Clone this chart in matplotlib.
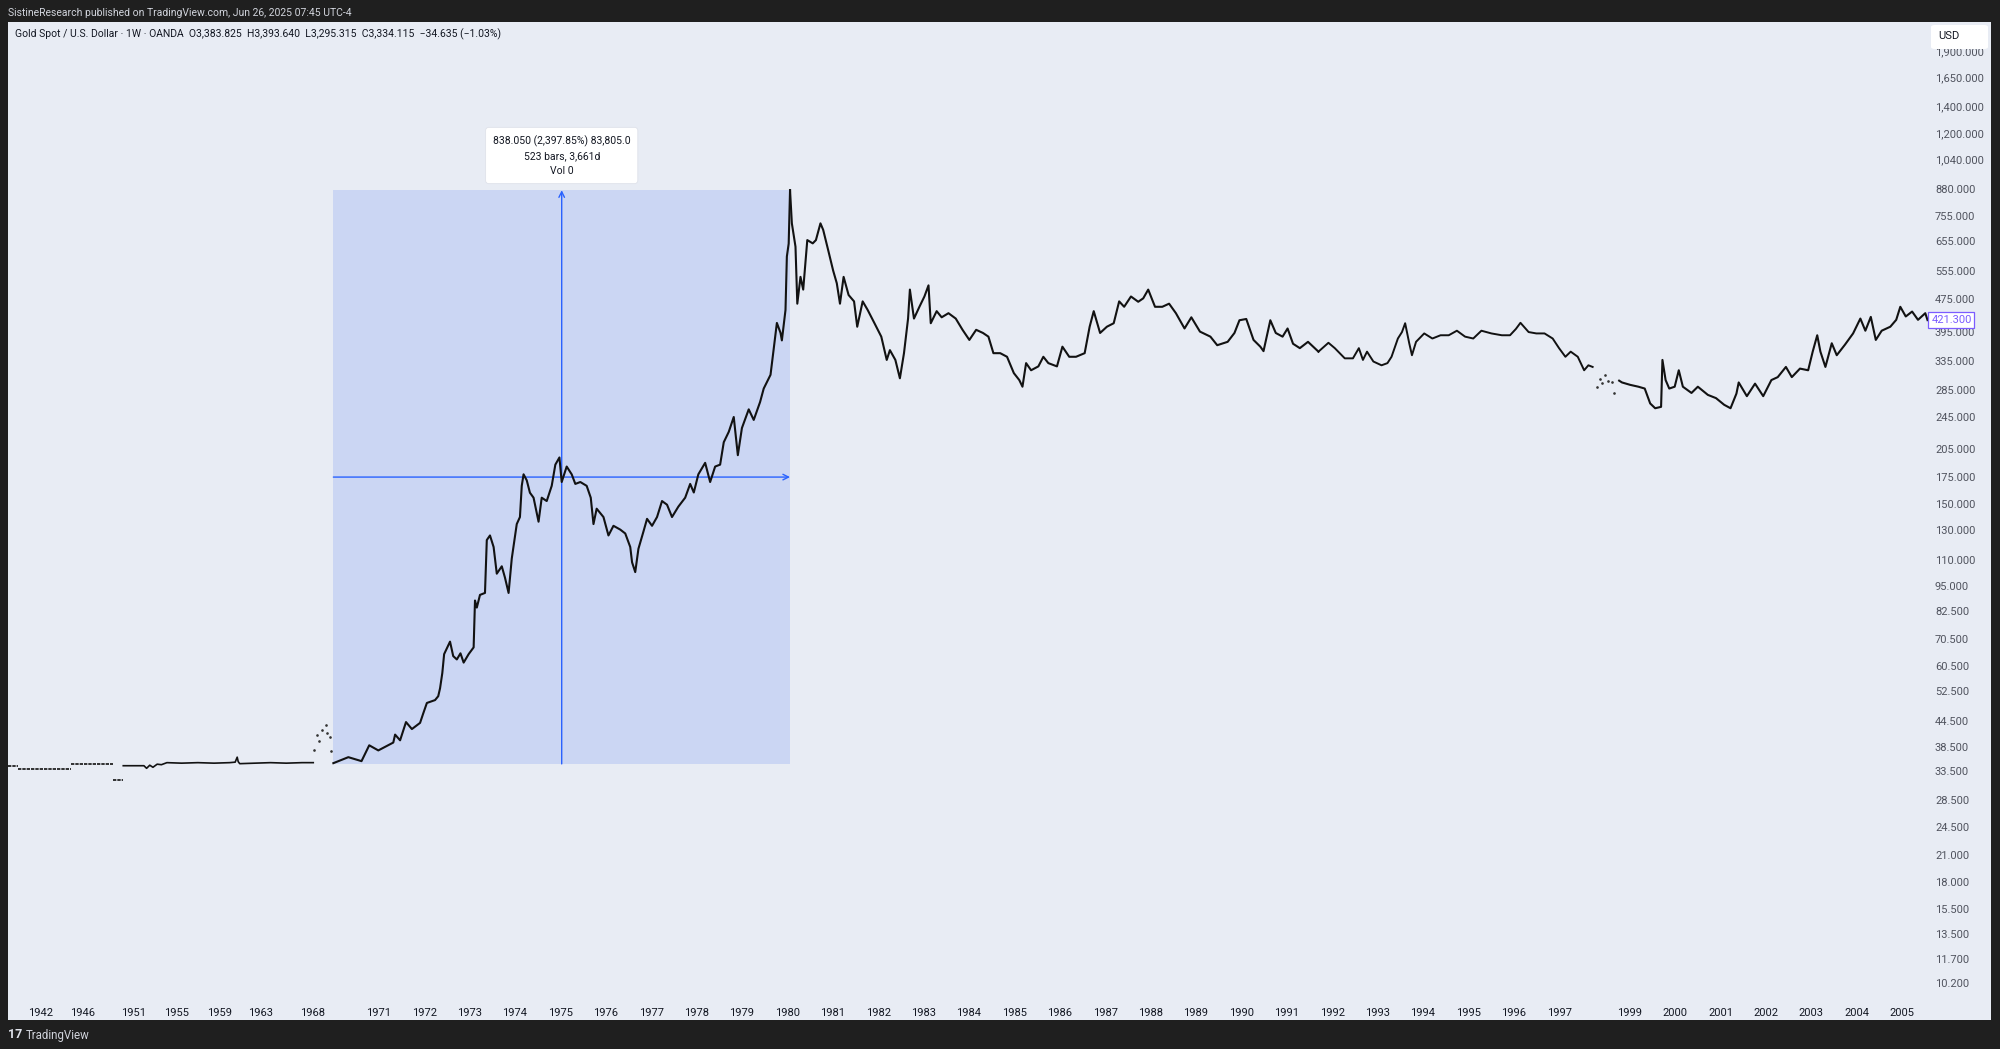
import numpy as np
import matplotlib
matplotlib.use("Agg")
import matplotlib.pyplot as plt
from matplotlib.patches import Rectangle, FancyBboxPatch
from matplotlib.ticker import FixedLocator, NullLocator
import matplotlib.transforms as mtransforms

plt.rcParams['font.family'] = ['Roboto', 'DejaVu Sans']

# --- data (decimal year, USD/oz) ---
# flat pieces before 1950 (weekly bars drawn as dashes)
flat_start = [1938.9, 1939.86, 1944.87, 1948.92]
flat_end = [1939.86, 1944.87, 1948.92, 1949.96]
flat_price = [34.6, 33.9, 35.0, 32.0]

fifties_years = [1949.96, 1951.0, 1951.95, 1952.2, 1952.5, 1952.8, 1953.2, 1953.6, 1954.12,
                 1955.5, 1957.0, 1958.5, 1960.0, 1960.55, 1960.75, 1960.85, 1961.0,
                 1962.5, 1964.0, 1965.5, 1967.0, 1968.08]
fifties_prices = [34.6, 34.6, 34.6, 34.1, 34.7, 34.3, 34.9, 34.8, 35.2,
                  35.1, 35.2, 35.1, 35.2, 35.3, 36.3, 35.4, 35.0,
                  35.1, 35.2, 35.1, 35.2, 35.2]

dots68_years = [1968.17, 1968.41, 1968.66, 1968.89, 1969.25, 1969.44, 1969.71, 1969.80]
dots68_prices = [37.8, 41.1, 39.8, 42.3, 43.6, 41.6, 40.6, 37.6]

rise_years = [1970.00, 1970.33, 1970.62, 1970.79, 1970.99, 1971.32, 1971.36, 1971.47, 1971.60,
              1971.73, 1971.91, 1971.98, 1972.06, 1972.24, 1972.31, 1972.35, 1972.40, 1972.44,
              1972.57, 1972.64, 1972.72, 1972.80, 1972.87, 1972.98, 1973.09, 1973.12, 1973.16,
              1973.23, 1973.34, 1973.38, 1973.45, 1973.53, 1973.60, 1973.71, 1973.78, 1973.86,
              1973.93, 1974.04, 1974.11, 1974.15, 1974.19, 1974.26, 1974.33, 1974.41, 1974.52,
              1974.59, 1974.70, 1974.81, 1974.89, 1974.98, 1975.03, 1975.14, 1975.25, 1975.33,
              1975.44, 1975.58, 1975.67, 1975.73, 1975.80, 1975.95, 1976.06, 1976.17, 1976.32,
              1976.43, 1976.54, 1976.58, 1976.65, 1976.72, 1976.83, 1976.91, 1977.02, 1977.13,
              1977.24, 1977.35, 1977.46, 1977.60, 1977.75, 1977.86, 1977.94, 1978.04, 1978.19,
              1978.30, 1978.41, 1978.52, 1978.60, 1978.71, 1978.82, 1978.91, 1979.00, 1979.15,
              1979.26, 1979.40, 1979.48, 1979.63, 1979.70, 1979.77, 1979.85, 1979.88, 1979.96,
              1979.99, 1980.03, 1980.06]
rise_prices = [35.1, 36.3, 35.5, 38.8, 37.7, 39.4, 41.2, 39.9, 44.2,
               42.5, 44.0, 46.4, 49.2, 50.0, 51.1, 53.4, 58.2, 64.7,
               69.4, 64.0, 62.8, 65.0, 61.7, 64.7, 67.2, 87.4, 84.0,
               90.2, 91.2, 122.7, 125.9, 118.0, 101.6, 105.9, 99.4, 91.2,
               110.6, 134.2, 139.6, 166.3, 177.4, 171.5, 160.0, 155.6, 136.0,
               155.6, 152.7, 166.3, 187.3, 195.0, 169.9, 185.3, 177.4, 168.1,
               169.9, 166.3, 155.6, 134.2, 146.3, 139.6, 125.9, 132.9, 130.1,
               127.3, 118.0, 108.3, 102.5, 116.8, 128.6, 138.2, 132.9, 139.6,
               152.7, 149.6, 139.6, 148.0, 155.6, 168.1, 160.2, 177.4, 189.2,
               169.9, 185.3, 187.3, 212.4, 225.1, 244.7, 197.5, 230.0, 255.4,
               240.7, 266.1, 287.0, 310.0, 358.4, 414.7, 392.3, 376.0, 446.0,
               602.0, 647.0, 873.0]

mid_years = [1980.06, 1980.10, 1980.18, 1980.22, 1980.29, 1980.35, 1980.44, 1980.56, 1980.63,
             1980.73, 1980.79, 1980.90, 1981.01, 1981.09, 1981.16, 1981.24, 1981.35, 1981.47,
             1981.54, 1981.66, 1981.77, 1981.92, 1982.07, 1982.19, 1982.26, 1982.38, 1982.48,
             1982.57, 1982.66, 1982.70, 1982.79, 1982.91, 1983.02, 1983.11, 1983.16, 1983.29,
             1983.40, 1983.55, 1983.71, 1983.86, 1984.01, 1984.16, 1984.31, 1984.43, 1984.54,
             1984.69, 1984.84, 1984.99, 1985.11, 1985.18, 1985.26, 1985.37, 1985.53, 1985.64,
             1985.75, 1985.94, 1986.06, 1986.21, 1986.36, 1986.55, 1986.66, 1986.75, 1986.89,
             1987.04, 1987.19, 1987.31, 1987.42, 1987.57, 1987.73, 1987.84, 1987.95, 1988.10,
             1988.26, 1988.41, 1988.56, 1988.75, 1988.90, 1989.09, 1989.32, 1989.47, 1989.70,
             1989.85, 1989.96, 1990.11, 1990.27, 1990.42, 1990.49, 1990.64, 1990.76, 1990.91,
             1991.02, 1991.14, 1991.29, 1991.47, 1991.70]
mid_prices = [873, 725, 636, 462, 537, 500, 660, 648, 660,
              725, 699, 624, 556, 518, 462, 537, 485, 468,
              406, 468, 446, 414, 384, 337, 356, 337, 304,
              350, 425, 500, 425, 454, 481, 512, 414, 443,
              428, 438, 425, 399, 377, 399, 392, 384, 350,
              350, 343, 313, 301, 290, 331, 318, 325, 343,
              331, 325, 363, 343, 343, 350, 406, 443, 392,
              406, 414, 468, 454, 481, 467, 476, 500, 454,
              454, 462, 438, 402, 428, 395, 384, 366, 373,
              392, 421, 424, 377, 363, 354, 421, 392, 384,
              402, 369, 360, 373, 353]

late_years = [1991.70, 1991.92, 1992.06, 1992.28, 1992.46, 1992.59, 1992.68, 1992.77, 1992.91,
              1993.09, 1993.22, 1993.31, 1993.45, 1993.54, 1993.61, 1993.70, 1993.76, 1993.85,
              1994.03, 1994.21, 1994.39, 1994.57, 1994.75, 1994.93, 1995.11, 1995.29, 1995.51,
              1995.74, 1995.92, 1996.05, 1996.15, 1996.33, 1996.50, 1996.68, 1996.86, 1997.00,
              1997.18, 1997.33, 1997.53, 1997.71, 1997.83, 1997.95]
late_prices = [353, 371, 360, 340, 340, 360, 337, 353, 334,
               327, 331, 343, 380, 394, 414, 370, 346, 373,
               391, 380, 387, 387, 397, 384, 380, 397, 391,
               387, 387, 401, 415, 394, 391, 391, 380, 360,
               343, 353, 343, 318, 327, 324]

dots98_years = [1998.07, 1998.15, 1998.22, 1998.31, 1998.38, 1998.49, 1998.55]
dots98_prices = [290, 302, 296, 310, 300, 297, 280]

recent_years = [1998.70, 1998.78, 1999.01, 1999.19, 1999.33, 1999.45, 1999.56, 1999.69, 1999.72,
                1999.79, 1999.87, 1999.99, 2000.08, 2000.17, 2000.36, 2000.50, 2000.72, 2000.90,
                2001.08, 2001.22, 2001.35, 2001.40, 2001.58, 2001.76, 2001.94, 2002.12, 2002.26,
                2002.44, 2002.57, 2002.75, 2002.93, 2003.03, 2003.13, 2003.20, 2003.31, 2003.45,
                2003.56, 2003.74, 2003.92, 2004.08, 2004.19, 2004.31, 2004.42, 2004.55, 2004.74,
                2004.87, 2004.96, 2005.08, 2005.22, 2005.35, 2005.51, 2005.56]
recent_prices = [300, 297, 293, 290, 287, 264, 257, 259, 337,
                 301, 287, 290, 318, 290, 280, 290, 277, 272,
                 262, 257, 279, 297, 275, 295, 275, 301, 306,
                 324, 306, 321, 318, 353, 387, 353, 324, 370,
                 346, 367, 391, 425, 397, 429, 377, 397, 406,
                 422, 454, 430, 442, 422, 438, 421.3]

last_price = 421.3

# measure tool
measure_start, measure_end = 1970.0, 1980.06
measure_low, measure_high = 34.95, 873.0
measure_text = "838.050 (2,397.85%) 83,805.0\n523 bars, 3,661d\nVol 0"

# axes
year_ticks = [1942, 1946, 1951, 1955, 1959, 1963, 1968] + list(range(1971, 1998)) + list(range(1999, 2006))
price_ticks = [10.2, 11.7, 13.5, 15.5, 18, 21, 24.5, 28.5, 33.5, 38.5, 44.5, 52.5, 60.5, 70.5,
               82.5, 95, 110, 130, 150, 175, 205, 245, 285, 335, 395, 475, 555, 655, 755, 880,
               1040, 1200, 1400, 1650, 1900]

# TradingView bar-index time axis: years mapped to bar counts (pre-1971 history is sparse)
anchor_years = [1930, 1942, 1946, 1951, 1955, 1959, 1963, 1968, 1970, 1971, 1997, 1999, 2010]
anchor_bars = [-532, -387, -339, -280.5, -232, -182.5, -136, -76, -52, 0, 1352, 1433, 2005]


def to_bars(y):
    return np.interp(y, anchor_years, anchor_bars)


def to_years(b):
    return np.interp(b, anchor_bars, anchor_years)


bg = '#e8ecf4'
frame = '#1f1f1f'
blue = '#2962ff'
W, H = 2000, 1049

fig = plt.figure(figsize=(20, 10.49), dpi=100, facecolor=frame)
fig.add_artist(Rectangle((8 / W, 1 - 1020 / H), 1983 / W, 998 / H, transform=fig.transFigure,
                         facecolor=bg, edgecolor='none', zorder=-5))

ax = fig.add_axes([8 / W, 1 - 997 / H, 1920 / W, 975 / H])
ax.set_facecolor('none')
ax.set_xscale('function', functions=(to_bars, to_years))
ax.set_yscale('log')
ax.set_xlim(1938.88, 2005.57)
ax.set_ylim(9.455, 2243)
for s in ax.spines.values():
    s.set_visible(False)

ax.xaxis.set_major_locator(FixedLocator(year_ticks))
ax.xaxis.set_minor_locator(NullLocator())
ax.set_xticklabels([str(y) for y in year_ticks])
ax.yaxis.set_major_locator(FixedLocator(price_ticks))
ax.yaxis.set_minor_locator(NullLocator())
ax.set_yticklabels([f"{v:,.3f}" for v in price_ticks])
ax.yaxis.tick_right()
ax.tick_params(axis='x', length=0, pad=8, labelsize=8, labelcolor='#131722')
ax.tick_params(axis='y', length=0, pad=5, labelsize=8, labelcolor='#50535e')

# measure rectangle and crosshair
ax.add_patch(Rectangle((measure_start, measure_low), measure_end - measure_start,
                       measure_high - measure_low, facecolor='#cbd6f3', edgecolor='none', zorder=1))
mid_year = float(to_years((to_bars(measure_start) + to_bars(measure_end)) / 2))
mid_price = np.sqrt(measure_low * measure_high)
ax.annotate('', xy=(mid_year, measure_high), xytext=(mid_year, measure_low),
            arrowprops=dict(arrowstyle='->', color=blue, lw=1, shrinkA=0, shrinkB=0, mutation_scale=10), zorder=2)
ax.annotate('', xy=(measure_end, mid_price), xytext=(measure_start, mid_price),
            arrowprops=dict(arrowstyle='->', color=blue, lw=1, shrinkA=0, shrinkB=0, mutation_scale=10), zorder=2)
ax.annotate(measure_text, xy=(mid_year, measure_high), xytext=(0, 10), textcoords='offset points',
            ha='center', va='bottom', fontsize=7.5, color='#131722', linespacing=1.6,
            bbox=dict(boxstyle='round,pad=0.7,rounding_size=0.3', fc='white', ec='#dfe2ea', lw=0.6),
            zorder=6)

# price history
lc = '#121212'
ax.hlines(flat_price, flat_start, flat_end, colors=lc, lw=1.2, linestyles=(0, (2, 0.6)), zorder=3)
ax.plot(fifties_years, fifties_prices, color=lc, lw=1.2, zorder=3)
ax.plot(dots68_years, dots68_prices, ls='none', marker='o', ms=0.9, color='#333333', zorder=3)
ax.plot(rise_years, rise_prices, color=lc, lw=1.5, zorder=3)
ax.plot(mid_years, mid_prices, color=lc, lw=1.5, zorder=3)
ax.plot(late_years, late_prices, color=lc, lw=1.4, zorder=3)
ax.plot(dots98_years, dots98_prices, ls='none', marker='o', ms=0.9, color='#333333', zorder=3)
ax.plot(recent_years, recent_prices, color=lc, lw=1.5, zorder=3)

# last price tag
tr = mtransforms.blended_transform_factory(ax.transAxes, ax.transData)
ax.text(1.0017, last_price, f"{last_price:.3f}", transform=tr, ha='left', va='center',
        fontsize=8, color='#7b5cff', zorder=7, clip_on=False,
        bbox=dict(boxstyle='square,pad=0.25', fc='white', ec='#7b5cff', lw=0.9))

# USD box over the scale (covers the top of the 1,900 label)
fig.add_artist(FancyBboxPatch((1931 / W, 1 - 49 / H), 57 / W, 24 / H, transform=fig.transFigure,
                              boxstyle='round,pad=0,rounding_size=0.002', fc='white', ec='none', zorder=5))
fig.text(1938 / W, 1 - 36 / H, 'USD', fontsize=8, color='#131722', va='center', zorder=6)

# header / legend / footer
fig.text(8 / W, 1 - 12.5 / H, 'SistineResearch published on TradingView.com, Jun 26, 2025 07:45 UTC-4',
         fontsize=7.5, color='#d1d4dc', va='center')
fig.text(15 / W, 1 - 34.5 / H,
         'Gold Spot / U.S. Dollar · 1W · OANDA  O3,383.825  H3,393.640  L3,295.315  C3,334.115  −34.635 (−1.03%)',
         fontsize=7.5, color='#131722', va='center')
fig.text(8 / W, 1 - 1035 / H, '17', fontsize=9, fontweight='bold', color='#e0e3eb', va='center')
fig.text(26 / W, 1 - 1035 / H, 'TradingView', fontsize=8.3, color='#d1d4dc', va='center')

fig.savefig('out.png', dpi=100, facecolor=frame)
